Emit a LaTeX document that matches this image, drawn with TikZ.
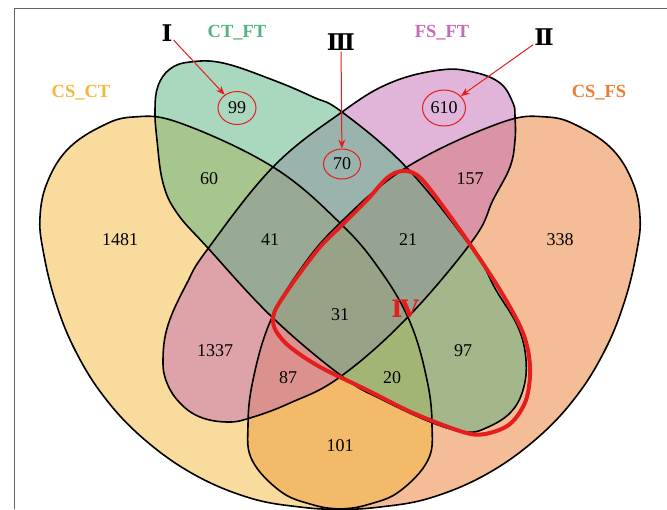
\documentclass[tikz,border=0pt]{standalone}
\usepackage{fontspec}
\setmainfont{Liberation Serif}
\newfontfamily\romfont{DejaVu Serif}
\usetikzlibrary{arrows.meta,shapes.geometric}
\definecolor{cyel}{RGB}{243,185,60}
\definecolor{cgrn}{RGB}{85,178,128}
\definecolor{cpnk}{RGB}{196,108,180}
\definecolor{corg}{RGB}{235,125,50}
\definecolor{cred}{RGB}{228,30,30}
\definecolor{cframe}{RGB}{100,100,100}
\def\yelpath{plot[smooth cycle,tension=0.65] coordinates {(133,117) (180,123) (273,167) (340,223) (380,270) (410,322) (427,380) (432,425) (428,460) (400,491) (370,504) (340,509) (300,507) (250,498) (195,475) (145,440) (105,398) (75,350) (55,300) (43,250) (40,217) (47,183) (67,150) (100,127)}}
\def\grnpath{plot[smooth cycle,tension=0.65] coordinates {(155,110) (158,86) (170,69) (190,62) (223,63) (273,80) (313,97) (342,112) (407,168) (473,250) (496,290) (518,327) (526,360) (523,390) (510,413) (486,428) (466,432) (433,423) (383,400) (343,377) (273,318) (207,247) (177,213) (163,183) (157,140)}}
\def\pnkpath{plot[smooth cycle,tension=0.65] coordinates {(342,112) (390,83) (440,70) (473,72) (500,83) (513,103) (515,117) (515,140) (510,167) (493,200) (473,240) (407,318) (340,377) (290,403) (250,418) (227,422) (200,417) (180,403) (167,383) (163,360) (168,325) (187,283) (207,250) (273,167)}}
\def\ivpath{plot[smooth cycle,tension=0.55] coordinates {(276,331) (290,347) (320,367) (367,390) (413,413) (463,432) (485,434) (510,424) (526,400) (530,367) (523,333) (500,290) (467,240) (433,193) (417,175) (402,171) (387,178) (367,200) (340,227) (320,247) (297,277) (278,305) (273,318)}}
\tikzset{
  setfill/.style={fill=#1, fill opacity=0.5},
  outline/.style={draw=black, line width=1.6pt},
  numlab/.style={font=\fontsize{18}{18}\selectfont, inner sep=0pt},
  setlab/.style={font=\bfseries\fontsize{18.5}{18}\selectfont, inner sep=0pt},
  romlab/.style={font=\romfont\bfseries\fontsize{23}{23}\selectfont, inner sep=1pt},
  ivlab/.style={font=\romfont\bfseries\fontsize{24}{24}\selectfont, text=cred, inner sep=0pt},
  redcirc/.style={ellipse, draw=cred, line width=1pt, inner sep=0pt, font=\fontsize{18}{18}\selectfont},
  redarrow/.style={draw=cred, line width=1pt, -{Stealth[length=9pt,width=7pt]}},
  ivline/.style={draw=cred, line width=4pt, line join=round}
}
\begin{document}
\begin{tikzpicture}[x=1pt,y=-1pt]
\useasboundingbox (0,0) rectangle (667,509);
\fill[white] (0,0) rectangle (667,509);
\draw[cframe, line width=1pt] (14,509) -- (14,8) -- (667,8);
% fills (orange, yellow, pink, green)
\begin{scope}[shift={(680,0)}, xscale=-1]
\fill[setfill=corg] \yelpath;
\end{scope}
\fill[setfill=cyel] \yelpath;
\fill[setfill=cpnk] \pnkpath;
\fill[setfill=cgrn] \grnpath;
% outlines
\draw[outline] \yelpath;
\begin{scope}[shift={(680,0)}, xscale=-1]
\draw[outline] \yelpath;
\end{scope}
\draw[outline] \grnpath;
\draw[outline] \pnkpath;
% region IV
\draw[ivline] \ivpath;
% set labels
\node[setlab, text=cyel] (lCSCT) at (81,93) {CS\_CT};
\node[setlab, text=cgrn] (lCTFT) at (237,33) {CT\_FT};
\node[setlab, text=cpnk] (lFSFT) at (442,33) {FS\_FT};
\node[setlab, text=corg] (lCSFS) at (599,93) {CS\_FS};
% numbers
\node[numlab] (n1481) at (120,240) {1481};
\node[numlab] (n338) at (560,240) {338};
\node[numlab] (n60) at (209,179) {60};
\node[numlab] (n157) at (470,179) {157};
\node[numlab] (n41) at (270,240) {41};
\node[numlab] (n21) at (408,240) {21};
\node[numlab] (n31) at (340,315) {31};
\node[numlab] (n1337) at (215,351) {1337};
\node[numlab] (n97) at (463,351) {97};
\node[numlab] (n87) at (288,378) {87};
\node[numlab] (n20) at (392,378) {20};
\node[numlab] (n101) at (340,446) {101};
\node[redcirc, minimum width=38pt, minimum height=33pt] (c99) at (237,108) {99};
\node[redcirc, minimum width=43pt, minimum height=36pt] (c610) at (444,108) {610};
\node[redcirc, minimum width=37pt, minimum height=30pt] (c70) at (342,164) {70};
% roman labels
\node[romlab] (nI) at (167,33) {Ⅰ};
\node[romlab] (nII) at (544,37) {Ⅱ};
\node[romlab] (nIII) at (341,42) {Ⅲ};
\node[ivlab] (nIV) at (405,309) {Ⅳ};
% arrows
\draw[redarrow] (nI) -- (c99);
\draw[redarrow] (nII) -- (c610);
\draw[redarrow] (nIII) -- (c70);
\end{tikzpicture}
\end{document}
